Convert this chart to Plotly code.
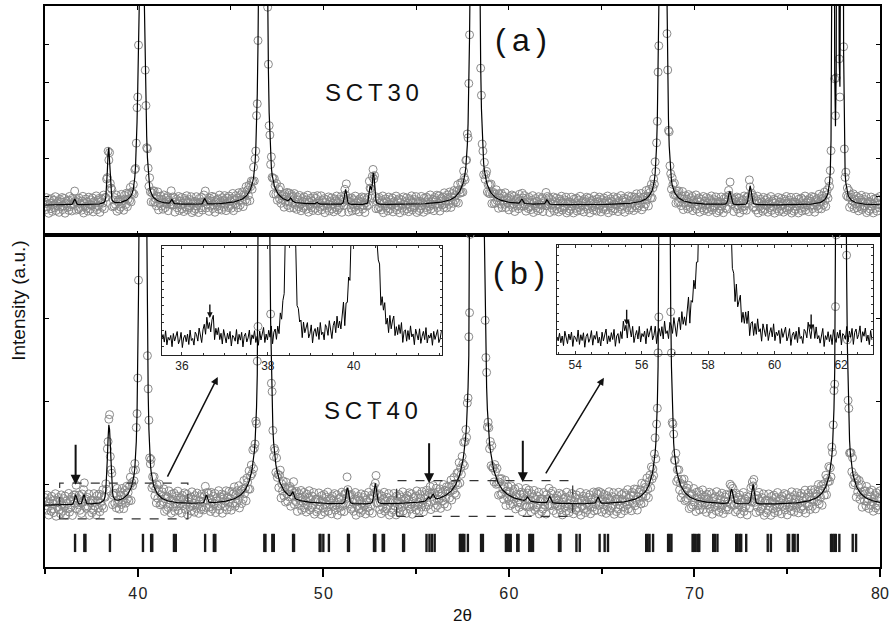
import numpy as np
import plotly.graph_objects as go

# ---------------- data ----------------
X_MIN, X_MAX = 35.0, 80.0
STEP_MAIN = 0.04

# panel (a) SCT30: background level and peak table (position, height, half-width)
BG_A = 0.78
PEAK_A_POS = [36.6, 38.43, 40.21, 41.83, 43.6, 46.75, 48.25, 49.66, 51.2, 52.52, 52.7,
              58.17, 60.7, 62.05, 68.3, 71.9, 73.0, 77.47, 77.72, 77.95]
PEAK_A_H = [0.15, 1.5, 8.5, 0.12, 0.15, 20.0, 0.1, 0.05, 0.4, 0.45, 0.85,
            25.0, 0.12, 0.12, 14.0, 0.35, 0.5, 25.0, 25.0, 25.0]
PEAK_A_W = [0.07, 0.08, 0.17, 0.06, 0.06, 0.17, 0.07, 0.06, 0.07, 0.06, 0.07,
            0.17, 0.07, 0.07, 0.17, 0.08, 0.08, 0.045, 0.04, 0.05]

# panel (b) SCT40
BG_B = 0.74
PEAK_B_POS = [36.65, 37.1, 38.45, 40.27, 43.7, 46.82, 48.35, 51.3, 52.8, 55.65, 55.9,
              58.3, 61.0, 62.2, 64.8, 68.4, 72.0, 73.15, 77.91]
PEAK_B_H = [0.12, 0.12, 0.95, 11.0, 0.1, 20.0, 0.08, 0.2, 0.25, 0.05, 0.08,
            25.0, 0.05, 0.08, 0.08, 18.0, 0.18, 0.24, 16.0]
PEAK_B_W = [0.07, 0.07, 0.1, 0.15, 0.07, 0.17, 0.07, 0.08, 0.08, 0.08, 0.08,
            0.2, 0.08, 0.08, 0.08, 0.17, 0.08, 0.08, 0.17]

# inset 1 (35.5 - 42 deg)
INSET1_RANGE = [35.53, 42.05]
INSET1_STEP = 0.03
INSET1_BG = 1.4
INSET1_POS = [36.65, 38.52, 40.25]
INSET1_H = [1.4, 25.0, 55.0]
INSET1_W = [0.15, 0.09, 0.17]
INSET1_TICKS = [36, 38, 40]

# inset 2 (53.5 - 63 deg)
INSET2_RANGE = [53.45, 62.95]
INSET2_STEP = 0.04
INSET2_BG = 1.3
INSET2_POS = [55.55, 58.2, 61.1, 62.5]
INSET2_H = [1.0, 80.0, 0.8, 0.4]
INSET2_W = [0.12, 0.25, 0.12, 0.4]
INSET2_TICKS = [54, 56, 58, 60, 62]

# main x tick labels
X_TICKS = [40, 50, 60, 70, 80]

# Bragg reflection positions (tick row under panel b)
BRAGG = [36.62, 37.12, 37.18, 38.5, 40.28, 40.72, 40.78, 41.95, 42.05, 43.63, 44.1, 44.18,
         46.82, 46.88, 47.25, 47.33, 48.37, 48.42, 49.8, 49.85, 50.0, 50.3, 51.33, 51.38,
         52.73, 52.8, 53.2, 53.27, 54.3, 54.35, 55.56, 55.72, 55.85, 56.0, 57.36, 57.45,
         57.52, 57.6, 57.79, 58.5, 58.6, 59.84, 59.92, 60.0, 60.1, 60.45, 60.52, 61.1,
         61.18, 61.3, 62.7, 62.78, 63.64, 63.82, 64.89, 65.16, 65.34, 67.4, 67.48, 67.58,
         67.77, 68.58, 68.66, 68.76, 69.9, 69.98, 70.07, 70.2, 70.26, 71.01, 71.1, 71.24,
         72.25, 72.33, 72.45, 72.52, 72.79, 73.95, 74.12, 75.03, 75.1, 75.3, 75.4, 75.57,
         77.36, 77.44, 77.54, 77.62, 77.81, 78.53, 78.71]

# hand-typed scatter of the measured points about the fit (relative units)
RESID = [0.3, -0.5, 0.8, -0.2, 0.1, -0.9, 0.6, 0.2, -0.4, 0.7, -0.7, 0.0, 0.5, -0.3, 0.9,
         -0.6, 0.2, -0.1, 0.4, -0.8, 0.6, -0.2, 0.3, 0.8, -0.5, -0.1, 0.7, -0.9, 0.1, 0.4,
         -0.3, 0.5, -0.6, 0.9, -0.2, 0.0, -0.7, 0.6, 0.3, -0.4, 0.8, -0.1, -0.8, 0.2, 0.5,
         -0.5, 0.7, -0.3, 0.1, -0.6, 0.4, 0.9, -0.9, 0.2, -0.2, 0.6, -0.4, 0.3, -0.7, 0.8,
         0.0, -0.5, 0.5, -0.1, 0.7, -0.8, 0.3, 0.1, -0.3, 0.9, -0.6, 0.4, -0.2, 0.6, -0.9,
         0.2, 0.5, -0.4, 0.0, 0.8, -0.7, 0.3, -0.1, 0.7, -0.5, 0.1, -0.8, 0.6, -0.3, 0.4,
         0.9, -0.6, 0.2, -0.4, 0.5, -0.2, 0.8, -0.9, 0.1, 0.3, -0.7]

NOISE_A = 0.24
NOISE_B = 0.15
NOISE_INSET = 0.85


# ---------------- helpers ----------------
def profile(x, bg, pos, h, w, eta=0.35):
    y = np.full_like(x, bg, dtype=float)
    for p, hh, ww in zip(pos, h, w):
        t = ((x - p) / ww) ** 2
        y = y + hh * (eta / (1.0 + t) + (1.0 - eta) * np.exp(-np.log(2.0) * t))
    return y


def scatter_of(n, offset, scale, calc, bg, cap=None):
    r = np.array([RESID[(i + offset) % len(RESID)] for i in range(n)])
    f = np.sqrt(calc / bg)
    if cap is not None:
        f = np.minimum(f, cap)
    return r * scale * f


x_main = np.arange(X_MIN, X_MAX + 1e-9, STEP_MAIN)
calc_a = profile(x_main, BG_A, PEAK_A_POS, PEAK_A_H, PEAK_A_W)
obs_a = calc_a + scatter_of(len(x_main), 0, NOISE_A, calc_a, BG_A)
calc_b = profile(x_main, BG_B, PEAK_B_POS, PEAK_B_H, PEAK_B_W)
obs_b = calc_b + scatter_of(len(x_main), 37, NOISE_B, calc_b, BG_B)

x_in1 = np.arange(INSET1_RANGE[0], INSET1_RANGE[1] + 1e-9, INSET1_STEP)
calc_in1 = profile(x_in1, INSET1_BG, INSET1_POS, INSET1_H, INSET1_W)
y_in1 = calc_in1 + scatter_of(len(x_in1), 11, NOISE_INSET, calc_in1, INSET1_BG, cap=2.0)

x_in2 = np.arange(INSET2_RANGE[0], INSET2_RANGE[1] + 1e-9, INSET2_STEP)
calc_in2 = profile(x_in2, INSET2_BG, INSET2_POS, INSET2_H, INSET2_W)
y_in2 = calc_in2 + scatter_of(len(x_in2), 53, NOISE_INSET, calc_in2, INSET2_BG, cap=2.0)

bx, by = [], []
for p in BRAGG:
    bx += [p, p, None]
    by += [0.18, 0.40, None]

# ---------------- figure ----------------
FONT = "Liberation Sans, Arial, Helvetica, sans-serif"
GRAY = "#8a8a8a"

fig = go.Figure()
marker_style = dict(symbol="circle-open", size=8, color=GRAY, line=dict(width=1, color=GRAY))

fig.add_trace(go.Scatter(x=x_main, y=obs_a, mode="markers", marker=marker_style,
                         xaxis="x", yaxis="y", showlegend=False))
fig.add_trace(go.Scatter(x=x_main, y=calc_a, mode="lines", line=dict(color="black", width=1.2),
                         xaxis="x", yaxis="y", showlegend=False))
fig.add_trace(go.Scatter(x=x_main, y=obs_b, mode="markers", marker=marker_style,
                         xaxis="x2", yaxis="y2", showlegend=False))
fig.add_trace(go.Scatter(x=x_main, y=calc_b, mode="lines", line=dict(color="black", width=1.2),
                         xaxis="x2", yaxis="y2", showlegend=False))
fig.add_trace(go.Scatter(x=bx, y=by, mode="lines", line=dict(color="#1a1a1a", width=2.4),
                         xaxis="x2", yaxis="y2", showlegend=False))
fig.add_trace(go.Scatter(x=x_in1, y=y_in1, mode="lines", line=dict(color="black", width=1),
                         xaxis="x3", yaxis="y3", showlegend=False))
fig.add_trace(go.Scatter(x=x_in2, y=y_in2, mode="lines", line=dict(color="black", width=1),
                         xaxis="x4", yaxis="y4", showlegend=False))

SPLIT = 0.5918
main_ax = dict(showline=True, linewidth=2, linecolor="black", showgrid=False, zeroline=False,
               tickcolor="black", automargin=False)
inset_ax = dict(showline=True, linewidth=1, linecolor="#222", showgrid=False, zeroline=False,
                tickcolor="#333", ticks="inside", mirror="ticks", automargin=False)

fig.update_layout(
    width=889, height=628,
    margin=dict(l=45, r=9, t=6, b=61, autoexpand=False),
    paper_bgcolor="white", plot_bgcolor="rgba(0,0,0,0)",
    font=dict(family=FONT, color="#222"),
    xaxis=dict(**main_ax, domain=[0, 1], anchor="y", range=[X_MIN, X_MAX],
               ticks="inside", ticklen=4, tickwidth=1, dtick=5, tick0=35,
               showticklabels=False, mirror="ticks"),
    yaxis=dict(**main_ax, domain=[SPLIT, 1], anchor="x", range=[0, 6],
               tickvals=[1, 2, 3, 4, 5], ticks="inside", ticklen=4, tickwidth=1,
               showticklabels=False, mirror="ticks"),
    xaxis2=dict(**main_ax, domain=[0, 1], anchor="y2", range=[X_MIN, X_MAX],
                tickvals=X_TICKS, ticktext=["4\u200a0", "5\u200a0", "6\u200a0", "7\u200a0", "80"],
                ticks="outside", ticklen=8, tickwidth=1.5, mirror=True,
                tickfont=dict(size=16, color="#222"), ticklabelstandoff=3,
                ticklabeloverflow="allow",
                minor=dict(dtick=5, tick0=35, ticklen=5, ticks="outside", tickwidth=1.5,
                           tickcolor="black")),
    yaxis2=dict(**main_ax, domain=[0, SPLIT], anchor="x2", range=[0, 4],
                tickvals=[1, 2, 3], ticks="inside", ticklen=4, tickwidth=1,
                showticklabels=False, mirror="ticks"),
    xaxis3=dict(**inset_ax, domain=[0.1398, 0.4753], anchor="y3", range=INSET1_RANGE,
                tickvals=INSET1_TICKS, ticklen=3, tickfont=dict(size=12, color="#222"),
                minor=dict(dtick=0.5, tick0=35.5, ticklen=2, ticks="inside", tickcolor="#333")),
    yaxis3=dict(**inset_ax, domain=[0.3779, 0.5722], anchor="x3", range=[0, 10],
                dtick=0.75, tick0=0.75, ticklen=2, showticklabels=False),
    xaxis4=dict(**inset_ax, domain=[0.6130, 0.9912], anchor="y4", range=INSET2_RANGE,
                tickvals=INSET2_TICKS, ticklen=3, tickfont=dict(size=12, color="#222"),
                minor=dict(dtick=0.5, tick0=53.5, ticklen=2, ticks="inside", tickcolor="#333")),
    yaxis4=dict(**inset_ax, domain=[0.3797, 0.574], anchor="x4", range=[0, 10],
                dtick=0.75, tick0=0.75, ticklen=2, showticklabels=False),
)

# dashed boxes marking the zoomed regions
for x0, x1, y0, y1 in [(35.79, 42.7, 0.58, 1.01), (53.95, 63.44, 0.61, 1.04)]:
    fig.add_shape(type="rect", xref="x2", yref="y2", x0=x0, x1=x1, y0=y0, y1=y1,
                  line=dict(color="#333", width=1.2, dash="dash"))

ann = []
# labels
ann.append(dict(x=60.64, y=5.1, xref="x", yref="y", text="(\u2009a\u2009)", showarrow=False,
                xanchor="center", yanchor="middle", font=dict(size=32, color="#111")))
ann.append(dict(x=52.6, y=3.74, xref="x", yref="y", text="S\u2009C\u2009T\u20093\u20090",
                xanchor="center", yanchor="middle", showarrow=False,
                font=dict(size=24, color="#111")))
ann.append(dict(x=60.57, y=3.54, xref="x2", yref="y2", text="(\u2009b\u2009)", showarrow=False,
                xanchor="center", yanchor="middle", font=dict(size=32, color="#111")))
ann.append(dict(x=52.55, y=1.88, xref="x2", yref="y2", text="S\u2009C\u2009T\u20094\u20090",
                xanchor="center", yanchor="middle", showarrow=False,
                font=dict(size=24, color="#111")))
ann.append(dict(x=-0.0327, y=0.474, xref="paper", yref="paper", text="Intensity (a.u.)",
                xanchor="center", yanchor="middle", textangle=-90, showarrow=False,
                font=dict(size=19, color="#111")))
ann.append(dict(x=0.5004, y=-0.0873, xref="paper", yref="paper", text="2\u03b8",
                xanchor="center", yanchor="middle", showarrow=False,
                font=dict(size=17, color="#111")))

# vertical arrows in panel (b)
for xa, yt, yh in [(36.65, 1.49, 0.99), (55.7, 1.51, 1.01), (60.75, 1.54, 1.02)]:
    ann.append(dict(x=xa, y=yh, ax=xa, ay=yt, xref="x2", yref="y2", axref="x2", ayref="y2",
                    text="", showarrow=True, arrowhead=2, arrowsize=1, arrowwidth=2,
                    arrowcolor="#111"))
# diagonal arrows toward the insets
for (xt, yt, xh, yh) in [(41.56, 1.07, 44.31, 2.29), (61.94, 1.11, 65.12, 2.28)]:
    ann.append(dict(x=xh, y=yh, ax=xt, ay=yt, xref="x2", yref="y2", axref="x2", ayref="y2",
                    text="", showarrow=True, arrowhead=2, arrowsize=1, arrowwidth=1.5,
                    arrowcolor="#111"))
# arrows inside the insets
ann.append(dict(x=36.65, y=3.4, ax=36.65, ay=4.77, xref="x3", yref="y3", axref="x3", ayref="y3",
                text="", showarrow=True, arrowhead=2, arrowsize=0.8, arrowwidth=1.4,
                arrowcolor="#111"))
for xa, yt, yh in [(55.55, 4.2, 2.66), (61.1, 3.76, 2.2)]:
    ann.append(dict(x=xa, y=yh, ax=xa, ay=yt, xref="x4", yref="y4", axref="x4", ayref="y4",
                    text="", showarrow=True, arrowhead=2, arrowsize=0.8, arrowwidth=1.4,
                    arrowcolor="#111"))

fig.update_layout(annotations=ann)
fig.write_html("out.html")
